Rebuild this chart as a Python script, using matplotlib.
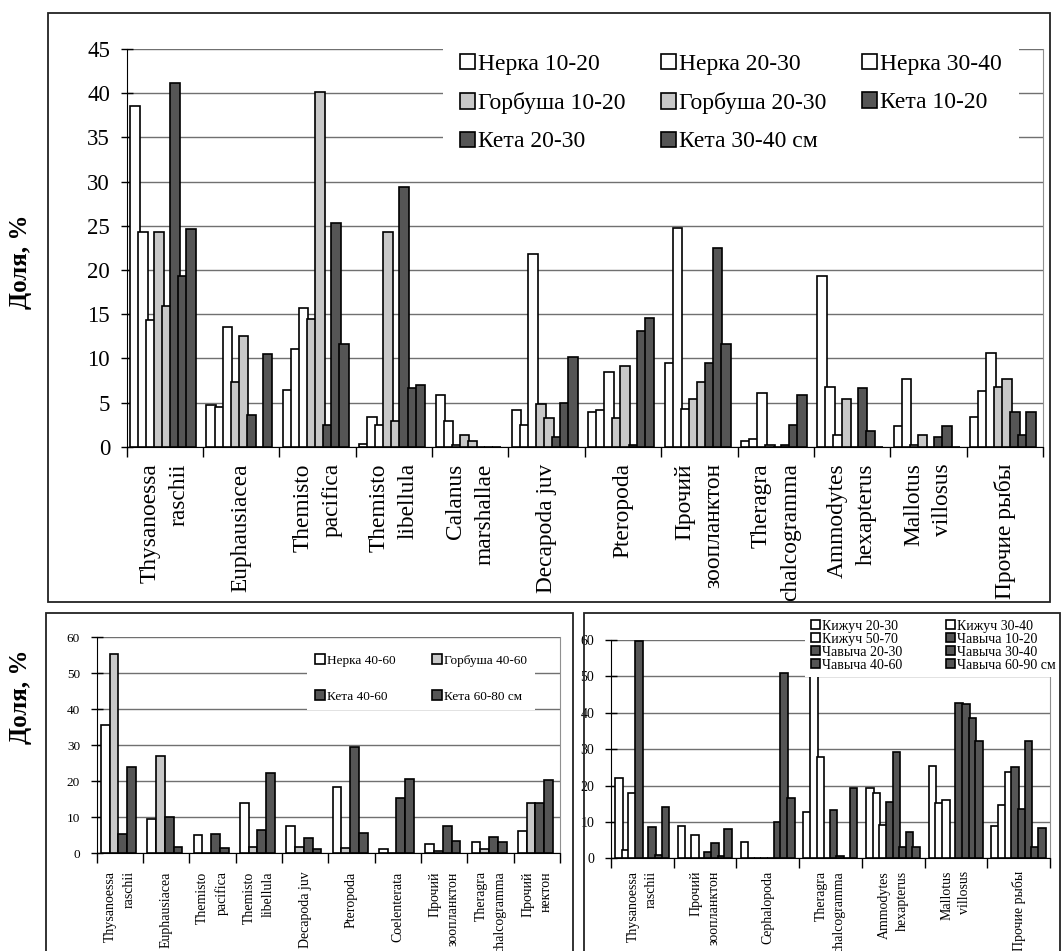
import matplotlib
matplotlib.use("Agg")
import matplotlib.pyplot as plt
from matplotlib.patches import Rectangle
import numpy as np

plt.rcParams['font.family'] = ['Liberation Serif', 'DejaVu Serif']

W, H = 1062, 951
WHITE = '#ffffff'
LIGHT = '#c8c8c8'
DARK = '#555555'
GRID = '#707070'

# ---- top chart: sockeye, pink and chum salmon up to 40 cm
top_cats = ['Thysanoessa\nraschii', 'Euphausiacea', 'Themisto\npacifica',
            'Themisto\nlibellula', 'Calanus\nmarshallae', 'Decapoda juv',
            'Pteropoda', 'Прочий\nзоопланктон', 'Theragra\nchalcogramma',
            'Ammodytes\nhexapterus', 'Mallotus\nvillosus', 'Прочие рыбы']
top_names = ['Нерка 10-20', 'Нерка 20-30', 'Нерка 30-40', 'Горбуша 10-20',
             'Горбуша 20-30', 'Кета 10-20', 'Кета 20-30', 'Кета 30-40 см']
top_colors = [WHITE, WHITE, WHITE, LIGHT, LIGHT, DARK, DARK, DARK]
nerka_10_20 = [38.6, 4.7, 6.4, 0.3, 5.8, 4.1, 3.9, 9.5, 0.7, 19.3, 2.3, 3.4]
nerka_20_30 = [24.3, 4.5, 11.1, 3.4, 2.9, 2.4, 4.1, 24.8, 0.9, 6.8, 7.7, 6.3]
nerka_30_40 = [14.3, 13.5, 15.7, 2.5, 0.2, 21.8, 8.4, 4.3, 6.1, 1.3, 0.2, 10.6]
gorbusha_10_20 = [24.3, 7.3, 14.5, 24.3, 1.3, 4.8, 3.2, 5.4, 0.2, 5.4, 1.3, 6.8]
gorbusha_20_30 = [15.9, 12.5, 40.1, 2.9, 0.7, 3.2, 9.1, 7.3, 0.0, 0.0, 0.0, 7.7]
keta_10_20 = [41.2, 3.6, 2.5, 29.4, 0.0, 1.1, 0.2, 9.5, 0.2, 6.6, 1.1, 3.9]
keta_20_30 = [19.3, 0.0, 25.3, 6.6, 0.0, 5.0, 13.1, 22.5, 2.5, 1.8, 2.3, 1.3]
keta_30_40 = [24.6, 10.5, 11.6, 7.0, 0.0, 10.2, 14.6, 11.6, 5.9, 0.0, 0.0, 3.9]
top_series = [nerka_10_20, nerka_20_30, nerka_30_40, gorbusha_10_20,
              gorbusha_20_30, keta_10_20, keta_20_30, keta_30_40]

# ---- bottom left: large sockeye, pink and chum
bl_cats = ['Thysanoessa\nraschii', 'Euphausiacea', 'Themisto\npacifica',
           'Themisto\nlibellula', 'Decapoda juv', 'Pteropoda', 'Coelenterata',
           'Прочий\nзоопланктон', 'Theragra\nchalcogramma', 'Прочий\nнектон']
bl_names = ['Нерка 40-60', 'Горбуша 40-60', 'Кета 40-60', 'Кета 60-80 см']
bl_colors = [WHITE, LIGHT, DARK, DARK]
nerka_40_60 = [35.6, 9.4, 5.0, 14.1, 7.6, 18.5, 1.1, 2.5, 3.2, 6.1]
gorbusha_40_60 = [55.4, 27.0, 0.0, 1.7, 1.7, 1.4, 0.0, 0.6, 1.3, 14.1]
keta_40_60 = [5.4, 10.0, 5.4, 6.5, 4.3, 29.4, 15.3, 7.6, 4.6, 14.1]
keta_60_80 = [24.1, 1.7, 1.4, 22.2, 1.1, 5.7, 20.6, 3.5, 3.2, 20.4]
bl_series = [nerka_40_60, gorbusha_40_60, keta_40_60, keta_60_80]

# ---- bottom right: coho and chinook
br_cats = ['Thysanoessa\nraschii', 'Прочий\nзоопланктон', 'Cephalopoda',
           'Theragra\nchalcogramma', 'Ammodytes\nhexapterus',
           'Mallotus\nvillosus', 'Прочие рыбы']
br_names = ['Кижуч 20-30', 'Кижуч 30-40', 'Кижуч 50-70', 'Чавыча 10-20',
            'Чавыча 20-30', 'Чавыча 30-40', 'Чавыча 40-60', 'Чавыча 60-90 см']
br_colors = [WHITE, WHITE, WHITE, DARK, DARK, DARK, DARK, DARK]
kizhuch_20_30 = [22.0, 8.9, 4.6, 12.8, 19.4, 25.4, 8.8]
kizhuch_30_40 = [2.2, 0.0, 0.0, 55.0, 18.0, 15.3, 14.7]
kizhuch_50_70 = [18.0, 6.4, 0.0, 27.9, 9.2, 16.0, 23.6]
chavycha_10_20 = [59.8, 0.0, 0.0, 0.0, 15.4, 0.0, 25.0]
chavycha_20_30 = [0.0, 1.8, 0.0, 13.3, 29.3, 42.8, 13.6]
chavycha_30_40 = [8.5, 4.3, 10.1, 0.5, 3.2, 42.4, 32.2]
chavycha_40_60 = [0.9, 0.5, 51.0, 0.0, 7.1, 38.5, 3.2]
chavycha_60_90 = [14.0, 8.1, 16.5, 19.2, 3.2, 32.3, 8.4]
br_series = [kizhuch_20_30, kizhuch_30_40, kizhuch_50_70, chavycha_10_20,
             chavycha_20_30, chavycha_30_40, chavycha_40_60, chavycha_60_90]


def px_axes(fig, left, top, right, bottom):
    return fig.add_axes([left / W, 1 - bottom / H, (right - left) / W, (bottom - top) / H])


def frame(fig, left, top, right, bottom):
    fig.patches.append(Rectangle((left / W, 1 - bottom / H), (right - left) / W,
                                 (bottom - top) / H, transform=fig.transFigure,
                                 fill=False, edgecolor='#222222', lw=1.3))


def row_order(items, ncol):
    # legend fills columns first; reorder so entries read across rows
    nrow = int(np.ceil(len(items) / ncol))
    out = []
    for c in range(ncol):
        for r in range(nrow):
            i = r * ncol + c
            if i < len(items):
                out.append(items[i])
    return out


def bar_panel(ax, cats, series, colors, offset, step, width, ymax, ystep,
              tick_fs, label_fs, label_pad, linespacing):
    n = len(cats)
    x = np.arange(n)
    handles = []
    for j, (vals, c) in enumerate(zip(series, colors)):
        b = ax.bar(x + offset + j * step, vals, width=width, align='edge',
                   color=c, edgecolor='black', linewidth=1.2, zorder=3)
        handles.append(b)
    ax.set_xlim(0, n)
    ax.set_ylim(0, ymax)
    ax.set_yticks(np.arange(0, ymax + 0.1, ystep))
    ax.yaxis.grid(True, color=GRID, lw=1.0, zorder=0)
    ax.set_axisbelow(True)
    ax.set_xticks(np.arange(n + 1))
    ax.set_xticklabels([])
    ax.set_xticks(x + 0.5, cats, minor=True)
    ax.tick_params(axis='x', which='major', direction='out', length=7, width=1, color='black')
    ax.tick_params(axis='x', which='minor', length=0, pad=label_pad,
                   labelrotation=90, labelsize=label_fs)
    ax.tick_params(axis='y', direction='inout', length=8, width=1, labelsize=tick_fs, pad=8)
    for lbl in ax.get_xticklabels(minor=True):
        lbl.set_multialignment('right')
        lbl.set_linespacing(linespacing)
    ax.spines['top'].set_visible(False)
    ax.spines['right'].set_color('#909090')
    ax.spines['left'].set_color('black')
    ax.spines['bottom'].set_color('black')
    ax.set_facecolor('none')
    return handles


fig = plt.figure(figsize=(W / 100, H / 100), dpi=100)

frame(fig, 47.7, 12.7, 1050, 602.3)
frame(fig, 45.7, 613.3, 573.3, 955)
frame(fig, 584.3, 613.3, 1060, 955)

# top chart
ax1 = px_axes(fig, 126.7, 49, 1043, 446.7)
h1 = bar_panel(ax1, top_cats, top_series, top_colors,
               0.045, 0.1054, 0.125, 45, 5, 16.5, 16.8, 12, 1.5)
leg1 = ax1.legend(row_order(h1, 3), row_order(top_names, 3), ncol=3,
                  loc='upper left', bbox_to_anchor=(443 / W, 1 - 37 / H),
                  bbox_transform=fig.transFigure, borderaxespad=0,
                  fontsize=17, frameon=True, fancybox=False, framealpha=1,
                  facecolor='white', edgecolor='none', borderpad=0.72,
                  handlelength=0.62, handleheight=0.62, handletextpad=0.15,
                  columnspacing=1.5, labelspacing=0.73)
leg1.set_zorder(5)

# bottom left chart
ax2 = px_axes(fig, 96.7, 637.3, 560, 853.3)
h2 = bar_panel(ax2, bl_cats, bl_series, bl_colors,
               0.09, 0.19, 0.19, 60, 10, 9.5, 10, 13, 1.56)
leg2 = ax2.legend(row_order(h2, 2), row_order(bl_names, 2), ncol=2,
                  loc='upper left', bbox_to_anchor=(307 / W, 1 - 646 / H),
                  bbox_transform=fig.transFigure, borderaxespad=0,
                  fontsize=9.5, frameon=True, fancybox=False, framealpha=1,
                  facecolor='white', edgecolor='none', borderpad=0.6,
                  handlelength=0.8, handleheight=0.8, handletextpad=0.15,
                  columnspacing=2.7, labelspacing=1.77)
leg2.set_zorder(5)

# bottom right chart
ax3 = px_axes(fig, 611, 640, 1050, 858.3)
h3 = bar_panel(ax3, br_cats, br_series, br_colors,
               0.065, 0.106, 0.122, 60, 10, 10, 10, 9, 1.5)
leg3 = ax3.legend(row_order(h3, 2), row_order(br_names, 2), ncol=2,
                  loc='upper left', bbox_to_anchor=(805 / W, 1 - 614 / H),
                  bbox_transform=fig.transFigure, borderaxespad=0,
                  fontsize=10, frameon=True, fancybox=False, framealpha=1,
                  facecolor='white', edgecolor='none', borderpad=0.4,
                  handlelength=0.65, handleheight=0.65, handletextpad=0.15,
                  columnspacing=3.15, labelspacing=0.0)
leg3.set_zorder(5)

fig.text(21 / W, 1 - 262 / H, 'Доля, %', rotation=90, fontsize=18,
         fontweight='bold', ha='center', va='center')
fig.text(21 / W, 1 - 697 / H, 'Доля, %', rotation=90, fontsize=18,
         fontweight='bold', ha='center', va='center')

fig.savefig('out.png', dpi=100)
